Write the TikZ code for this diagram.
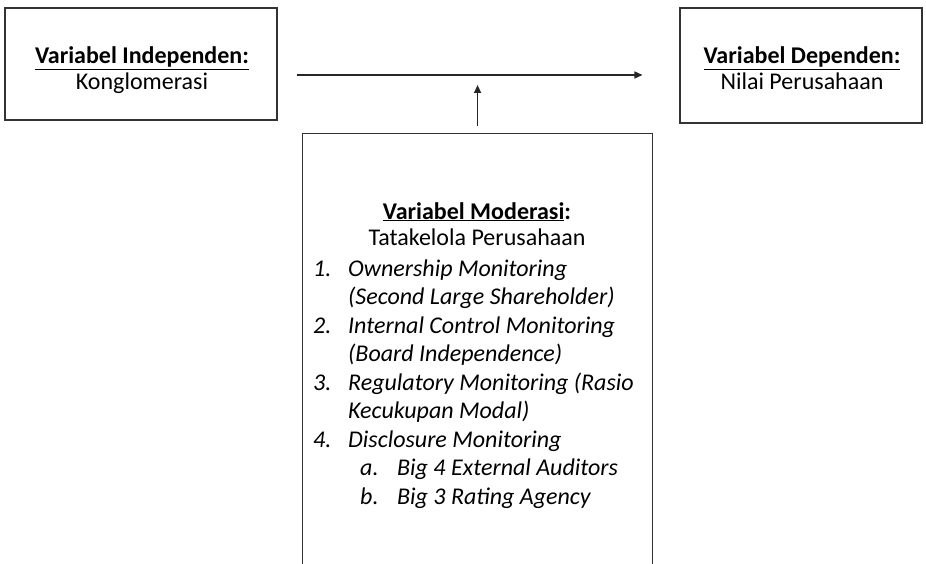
\documentclass[tikz,border=0pt]{standalone}
\usepackage{fontspec}
\setmainfont{Carlito}
\usetikzlibrary{arrows.meta,positioning,calc}

\begin{document}
\begin{tikzpicture}[x=1pt, y=-1pt, >={Triangle[length=8pt,width=7pt]},
  font=\fontsize{24}{26}\selectfont,
  varbox/.style={draw=black!80, line width=1.1pt, inner sep=0pt},
  varlab/.style={align=center, inner sep=0pt, anchor=base},
  arr/.style={->, line width=1.4pt, black!85}]
  \clip (0,0) rectangle (926,564);

  \node[varbox, minimum width=272pt, minimum height=112pt] (indep) at (141,64) {};
  \node[varlab] (indeplab) at (142,90)
    {\underline{\textbf{Variabel Independen:}}\\Konglomerasi};
  \node[varbox, minimum width=242pt, minimum height=115pt] (dep) at (801,65.5) {};
  \node[varlab] (deplab) at (802,90)
    {\underline{\textbf{Variabel Dependen:}}\\Nilai Perusahaan};
  \node[varbox, minimum width=350pt, minimum height=440pt, anchor=north west] (moder) at (302,133) {};

  % moderating variable text
  \node[varlab] (modhead) at (477,245)
    {\underline{\textbf{Variabel Moderasi}}\textbf{:}\\Tatakelola Perusahaan};
  \node[align=left, inner sep=0pt, anchor=base west, font=\fontsize{24}{28.5}\selectfont\itshape] (modlist) at (313,504)
    {\makebox[35pt][l]{1.}Ownership Monitoring\\
     \hspace*{35pt}(Second Large Shareholder)\\
     \makebox[35pt][l]{2.}Internal Control Monitoring\\
     \hspace*{35pt}(Board Independence)\\
     \makebox[35pt][l]{3.}Regulatory Monitoring (Rasio\\
     \hspace*{35pt}Kecukupan Modal)\\
     \makebox[35pt][l]{4.}Disclosure Monitoring\\
     \hspace*{47pt}\makebox[37pt][l]{a.}Big 4 External Auditors\\
     \hspace*{47pt}\makebox[37pt][l]{b.}Big 3 Rating Agency};

  \coordinate (meet) at (moder.north |- 0,75);
  \draw[arr, shorten <=19pt, shorten >=37pt] (indep.east |- meet) -- (dep.west |- meet);
  \draw[arr, shorten <=7pt, shorten >=10pt] (moder.north) -- (meet);
\end{tikzpicture}
\end{document}
